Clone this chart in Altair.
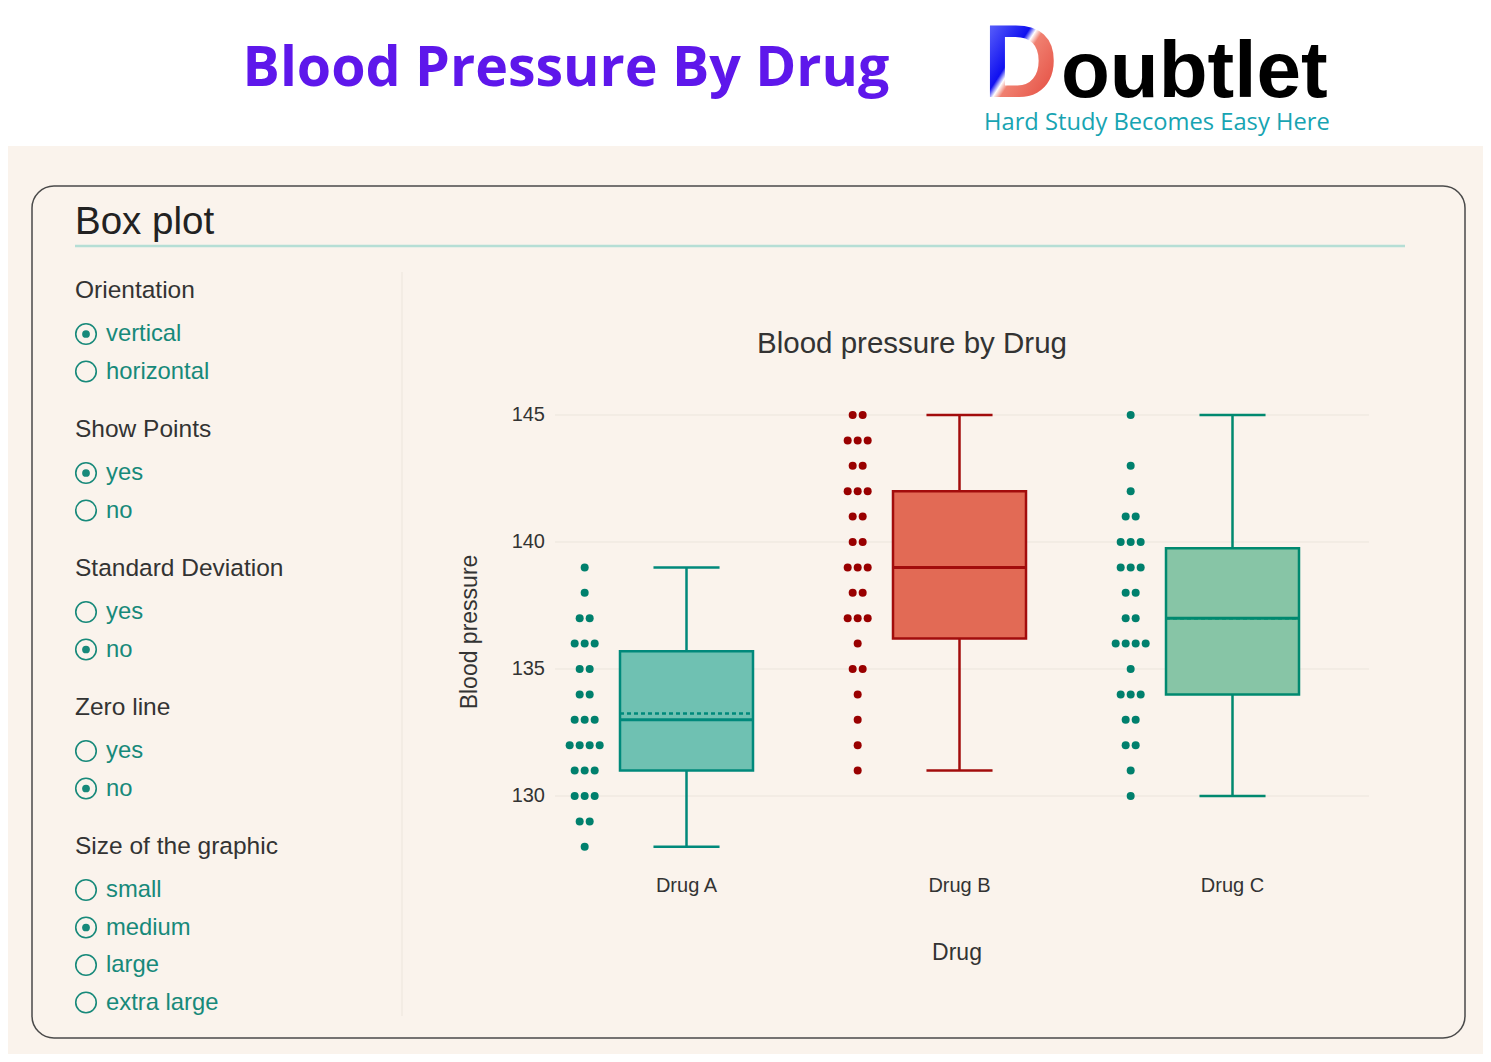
import altair as alt
import pandas as pd

# ---------------- data ----------------
drugs = ["Drug A", "Drug B", "Drug C"]
drug_a_bp = [139, 138, 137, 137, 136, 136, 136, 135, 135, 134, 134, 133, 133, 133,
             132, 132, 132, 132, 131, 131, 131, 130, 130, 130, 129, 129, 128]
drug_b_bp = [145, 145, 144, 144, 144, 143, 143, 142, 142, 142, 141, 141, 140, 140,
             139, 139, 139, 138, 138, 137, 137, 137, 136, 135, 135, 134, 133, 132, 131]
drug_c_bp = [145, 143, 142, 141, 141, 140, 140, 140, 139, 139, 139, 138, 138, 137,
             137, 136, 136, 136, 136, 135, 134, 134, 134, 133, 133, 132, 132, 131, 130]
box_q1 = [131.0, 136.2, 134.0]
box_median = [133.0, 139.0, 137.0]
box_q3 = [135.7, 142.0, 139.75]
box_mean = [133.25, 139.0, 137.0]
whisker_low = [128, 131, 130]
whisker_high = [139, 145, 145]
y_ticks = [130, 135, 140, 145]

# ---------------- styles ----------------
box_fill = ["#6fc1b2", "#e26a55", "#87c5a6"]
box_line = ["#00897b", "#a20c0c", "#00896f"]
point_color = ["#00806d", "#990000", "#00806d"]
FONT = "Liberation Sans"
TEAL = "#17897a"
DARK = "#333333"
BEIGE = "#faf3ec"

BOX_HALF = 0.2436
CAP_HALF = 0.121
PTS_CENTER = -0.373
PTS_STEP = 10 / 273.0

XS = alt.Scale(domain=[-0.5, 2.5], range=[542, 1361], nice=False, zero=False)
YS = alt.Scale(domain=[127.3, 145.6], range=[856.6, 391.76], nice=False, zero=False)

# ---------------- tables ----------------
rows = []
for i, vals in enumerate([drug_a_bp, drug_b_bp, drug_c_bp]):
    counts = {}
    for v in vals:
        counts[v] = counts.get(v, 0) + 1
    seen = {}
    for v in vals:
        k = seen.get(v, 0)
        seen[v] = k + 1
        n = counts[v]
        rows.append({"drug": drugs[i], "bp": v, "color": point_color[i],
                     "xpos": i + PTS_CENTER + (k - (n - 1) / 2) * PTS_STEP})
points = pd.DataFrame(rows)

box = pd.DataFrame({
    "drug": drugs, "idx": [0, 1, 2], "q1": box_q1, "median": box_median, "q3": box_q3,
    "mean": box_mean, "lo": whisker_low, "hi": whisker_high,
    "fill": box_fill, "line": box_line,
})
box["left"] = box["idx"] - BOX_HALF
box["right"] = box["idx"] + BOX_HALF
box["capl"] = box["idx"] - CAP_HALF
box["capr"] = box["idx"] + CAP_HALF

ticks = pd.DataFrame({"v": y_ticks})

one = alt.Data(values=[{}])


def txt(text, x, y, size, color=DARK, align="left", font=FONT, weight="normal", angle=0, baseline="middle"):
    kw = dict(text=text, fontSize=size, color=color, align=align, font=font,
              fontWeight=weight, baseline=baseline)
    if angle:
        kw["angle"] = angle
    return alt.Chart(one).mark_text(**kw).encode(x=alt.value(x), y=alt.value(y))


layers = []
# page background (beige area below the white header)
layers.append(alt.Chart(one).mark_rect(color=BEIGE).encode(
    x=alt.value(0), x2=alt.value(1475), y=alt.value(138), y2=alt.value(1046)))
# card
layers.append(alt.Chart(one).mark_rect(fill=BEIGE, stroke="#4a4a4a", strokeWidth=1.5, cornerRadius=22).encode(
    x=alt.value(24), x2=alt.value(1457), y=alt.value(178), y2=alt.value(1030)))

# header
layers.append(txt("Blood Pressure By Drug", 558, 78, 55.5, color="#5e17eb", align="center",
                  font="Open Sans", weight="bold", baseline="alphabetic"))
grad = alt.LinearGradient(gradient="linear", x1=0, x2=1, y1=0, y2=1, stops=[
    alt.GradientStop(offset=0, color="#7d86ff"), alt.GradientStop(offset=0.42, color="#1010f0"),
    alt.GradientStop(offset=0.47, color="#ffffff"), alt.GradientStop(offset=0.52, color="#f08070"),
    alt.GradientStop(offset=1, color="#e03a30")])
layers.append(alt.Chart(one).mark_text(text="D", fontSize=104, font=FONT, fontWeight="bold",
                                       fill=grad, align="left", baseline="alphabetic").encode(
    x=alt.value(975), y=alt.value(89)))
layers.append(txt("oubtlet", 1053, 89, 80, color="#000000", weight="bold", baseline="alphabetic"))
layers.append(txt("Hard Study Becomes Easy Here", 976, 122, 23.7, color="#17a4b2", font="Open Sans",
                  baseline="alphabetic"))

# card title
layers.append(txt("Box plot", 67, 226, 38.5, color="#222222", baseline="alphabetic"))
layers.append(alt.Chart(one).mark_rule(color="#b5ded5", strokeWidth=2.5).encode(
    x=alt.value(67), x2=alt.value(1397), y=alt.value(238)))
layers.append(alt.Chart(one).mark_rule(color="#ece5dc", strokeWidth=1).encode(
    x=alt.value(394), y=alt.value(264), y2=alt.value(1008)))

# control panel
sections = [("Orientation", ["vertical", "horizontal"], 0),
            ("Show Points", ["yes", "no"], 0),
            ("Standard Deviation", ["yes", "no"], 1),
            ("Zero line", ["yes", "no"], 1),
            ("Size of the graphic", ["small", "medium", "large", "extra large"], 1)]
y = 283
for head, opts, sel in sections:
    layers.append(txt(head, 67, y, 24.5, color=DARK))
    for j, o in enumerate(opts):
        oy = y + 43 + j * 37.5
        layers.append(alt.Chart(one).mark_point(shape="circle", filled=False, size=420,
                                                color=TEAL, strokeWidth=1.6, opacity=1).encode(
            x=alt.value(78), y=alt.value(oy)))
        if j == sel:
            layers.append(alt.Chart(one).mark_point(shape="circle", filled=True, size=60,
                                                    color=TEAL, opacity=1).encode(
                x=alt.value(78), y=alt.value(oy)))
        layers.append(txt(o, 98, oy, 23.8, color=TEAL))
    y = y + 43 + len(opts) * 37.5 + 21

# ---------------- plot ----------------
layers.append(txt("Blood pressure by Drug", 904, 336, 29.5, color=DARK, align="center"))
layers.append(txt("Blood pressure", 462, 624, 23, color=DARK, align="center", angle=270))
layers.append(txt("Drug", 949, 945, 23, color=DARK, align="center"))

layers.append(alt.Chart(ticks).mark_rule(color="#ebe5dc", strokeWidth=1).encode(
    y=alt.Y("v:Q", scale=YS, axis=None), x=alt.value(547), x2=alt.value(1361)))
layers.append(alt.Chart(ticks).mark_text(fontSize=20, font=FONT, color=DARK, align="right",
                                         baseline="middle").encode(
    y=alt.Y("v:Q", scale=YS, axis=None), x=alt.value(537), text="v:Q"))
layers.append(alt.Chart(box).mark_text(fontSize=20, font=FONT, color=DARK, align="center",
                                       baseline="middle").encode(
    x=alt.X("idx:Q", scale=XS, axis=None), y=alt.value(878), text="drug:N"))

# whiskers
layers.append(alt.Chart(box).mark_rule(strokeWidth=2.5).encode(
    x=alt.X("idx:Q", scale=XS, axis=None), y=alt.Y("lo:Q", scale=YS, axis=None), y2="hi:Q",
    color=alt.Color("line:N", scale=None)))
# caps
for fld in ["lo", "hi"]:
    layers.append(alt.Chart(box).mark_rule(strokeWidth=2.5).encode(
        x=alt.X("capl:Q", scale=XS, axis=None), x2="capr:Q",
        y=alt.Y(f"{fld}:Q", scale=YS, axis=None), color=alt.Color("line:N", scale=None)))
# boxes
layers.append(alt.Chart(box).mark_rect(strokeWidth=2.5).encode(
    x=alt.X("left:Q", scale=XS, axis=None), x2="right:Q",
    y=alt.Y("q1:Q", scale=YS, axis=None), y2="q3:Q",
    fill=alt.Fill("fill:N", scale=None), stroke=alt.Stroke("line:N", scale=None)))
# mean (dashed) and median
layers.append(alt.Chart(box).mark_rule(strokeWidth=2.5, strokeDash=[4, 3]).encode(
    x=alt.X("left:Q", scale=XS, axis=None), x2="right:Q",
    y=alt.Y("mean:Q", scale=YS, axis=None), color=alt.Color("line:N", scale=None)))
layers.append(alt.Chart(box).mark_rule(strokeWidth=3).encode(
    x=alt.X("left:Q", scale=XS, axis=None), x2="right:Q",
    y=alt.Y("median:Q", scale=YS, axis=None), color=alt.Color("line:N", scale=None)))
# points
layers.append(alt.Chart(points).mark_circle(size=64, opacity=1).encode(
    x=alt.X("xpos:Q", scale=XS, axis=None), y=alt.Y("bp:Q", scale=YS, axis=None),
    color=alt.Color("color:N", scale=None)))

chart = alt.layer(*layers).properties(
    width=1475, height=1046, padding=0,
    autosize=alt.AutoSizeParams(type="none"), background="white",
).configure_view(stroke=None)

chart.save("out.html", embed_options={"renderer": "svg", "actions": False})
